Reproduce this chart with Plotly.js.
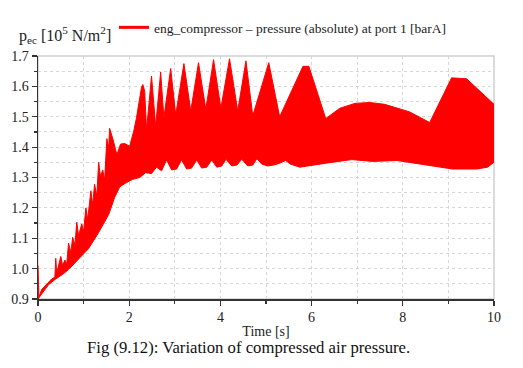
<!DOCTYPE html>
<html>
<head>
<meta charset="utf-8">
<script src="https://cdn.plot.ly/plotly-3.0.1.min.js"></script>
<style>html,body{margin:0;padding:0;background:#fff;}#chart{width:523px;height:368px;}</style>
</head>
<body>
<div id="chart"></div>
<script>
// Upper envelope of the pressure signal (time [s], pressure [bar])
const tUpper = [0, 0.02, 0.08, 0.19, 0.30, 0.37, 0.39, 0.41, 0.45, 0.50, 0.54, 0.59, 0.63, 0.67, 0.72, 0.76, 0.81, 0.85, 0.89, 0.96, 1.00, 1.05, 1.09, 1.16, 1.20, 1.24, 1.29, 1.33, 1.37, 1.42, 1.46, 1.51, 1.55, 1.57, 1.64, 1.73, 1.81, 1.90, 2.01, 2.10, 2.16, 2.23, 2.27, 2.30, 2.34, 2.38, 2.49, 2.58, 2.69, 2.76, 2.91, 3.02, 3.20, 3.35, 3.52, 3.68, 3.85, 4.01, 4.20, 4.38, 4.56, 4.71, 5.06, 5.30, 5.81, 5.94, 6.31, 6.62, 6.95, 7.27, 7.60, 8.15, 8.59, 9.07, 9.40, 10.0];
const pUpper = [1.010, 0.906, 0.931, 0.950, 0.966, 0.972, 1.034, 0.985, 1.015, 1.040, 1.010, 1.028, 1.015, 1.084, 1.053, 1.103, 1.078, 1.153, 1.109, 1.147, 1.122, 1.200, 1.162, 1.256, 1.209, 1.278, 1.240, 1.350, 1.303, 1.325, 1.290, 1.428, 1.397, 1.462, 1.428, 1.375, 1.410, 1.412, 1.403, 1.453, 1.497, 1.553, 1.597, 1.606, 1.584, 1.456, 1.634, 1.469, 1.647, 1.497, 1.659, 1.506, 1.675, 1.519, 1.678, 1.525, 1.688, 1.528, 1.691, 1.519, 1.684, 1.503, 1.678, 1.500, 1.666, 1.666, 1.494, 1.528, 1.544, 1.547, 1.541, 1.516, 1.481, 1.628, 1.625, 1.541];
// Lower envelope of the pressure signal
const tLower = [0, 0.10, 0.23, 0.39, 0.54, 0.67, 0.89, 1.11, 1.33, 1.55, 1.68, 1.79, 1.95, 2.08, 2.23, 2.36, 2.49, 2.60, 2.71, 2.82, 2.93, 3.04, 3.15, 3.26, 3.37, 3.48, 3.59, 3.70, 3.81, 3.92, 4.03, 4.12, 4.25, 4.36, 4.47, 4.60, 4.71, 4.80, 4.91, 5.04, 5.17, 5.30, 5.43, 5.54, 5.74, 6.02, 6.31, 6.88, 7.34, 7.87, 8.52, 9.09, 9.62, 9.86, 10.0];
const pLower = [0.900, 0.922, 0.947, 0.966, 0.981, 0.997, 1.031, 1.066, 1.119, 1.178, 1.234, 1.269, 1.284, 1.294, 1.300, 1.316, 1.313, 1.334, 1.322, 1.358, 1.325, 1.328, 1.358, 1.328, 1.331, 1.358, 1.331, 1.334, 1.358, 1.334, 1.338, 1.360, 1.338, 1.341, 1.360, 1.338, 1.341, 1.362, 1.344, 1.338, 1.341, 1.347, 1.356, 1.344, 1.334, 1.341, 1.347, 1.359, 1.353, 1.356, 1.341, 1.328, 1.328, 1.334, 1.350];

const seriesName = 'eng_compressor \u2013 pressure (absolute) at port 1 [barA]';
const red = '#ff0000';

const traces = [
  {x: tLower, y: pLower, mode: 'lines', line: {color: red, width: 1}, showlegend: false, hoverinfo: 'skip'},
  {x: tUpper, y: pUpper, mode: 'lines', line: {color: red, width: 1}, fill: 'tonexty', fillcolor: red, showlegend: false, hoverinfo: 'skip'},
  {x: [null], y: [null], mode: 'lines', line: {color: red, width: 3}, name: seriesName, showlegend: true}
];

const gridC = '#d6d6d6';
const layout = {
  width: 523, height: 368,
  margin: {l: 38, r: 29, t: 43, b: 69},
  paper_bgcolor: '#fff', plot_bgcolor: '#fff',
  font: {family: 'Liberation Serif, serif', color: '#222', size: 14},
  showlegend: true,
  legend: {x: 0.1667, xanchor: 'left', y: 1.117, yanchor: 'middle', bgcolor: 'rgba(0,0,0,0)', font: {size: 13.5, color: '#222'}},
  xaxis: {
    range: [0, 10], tick0: 0, dtick: 2, showgrid: true, gridcolor: gridC, griddash: 'dot', gridwidth: 1,
    showline: true, linecolor: '#333', linewidth: 1.5, ticks: 'outside', ticklen: 5, tickcolor: '#333', tickwidth: 1.2,
    zeroline: false, automargin: false,
    minor: {dtick: 1, ticks: 'outside', ticklen: 3, tickcolor: '#333', showgrid: true, gridcolor: gridC, griddash: 'dot', gridwidth: 1},
    title: {text: 'Time [s]', font: {size: 14}, standoff: 2},
    tickfont: {size: 14}
  },
  yaxis: {
    range: [0.9, 1.7], tick0: 0.9, dtick: 0.1, tickformat: '.1f', showgrid: true, gridcolor: gridC, griddash: 'dot', gridwidth: 1,
    showline: true, linecolor: '#333', linewidth: 1.5, ticks: 'outside', ticklen: 5, tickcolor: '#333', tickwidth: 1.2,
    zeroline: false, automargin: false,
    minor: {dtick: 0.05, ticks: 'outside', ticklen: 3, tickcolor: '#333', showgrid: true, gridcolor: gridC, griddash: 'dot', gridwidth: 1},
    tickfont: {size: 14}
  },
  shapes: [
    {type: 'rect', xref: 'paper', yref: 'paper', x0: 0, x1: 1, y0: 0, y1: 1, line: {color: '#d0d0d0', width: 1.5}, layer: 'below'}
  ],
  annotations: [
    {text: 'p<sub>ec</sub> [10<sup>5</sup> N/m<sup>2</sup>]', xref: 'paper', yref: 'paper', x: -0.046, xanchor: 'left', y: 1.088, yanchor: 'middle', showarrow: false, font: {size: 16, color: '#222'}},
    {text: 'Fig (9.12): Variation of compressed air pressure.', xref: 'paper', yref: 'paper', x: 0.4627, xanchor: 'center', y: -0.199, yanchor: 'middle', showarrow: false, font: {size: 16.7, color: '#111'}}
  ]
};

Plotly.newPlot('chart', traces, layout, {displayModeBar: false, staticPlot: true});
</script>
</body>
</html>
